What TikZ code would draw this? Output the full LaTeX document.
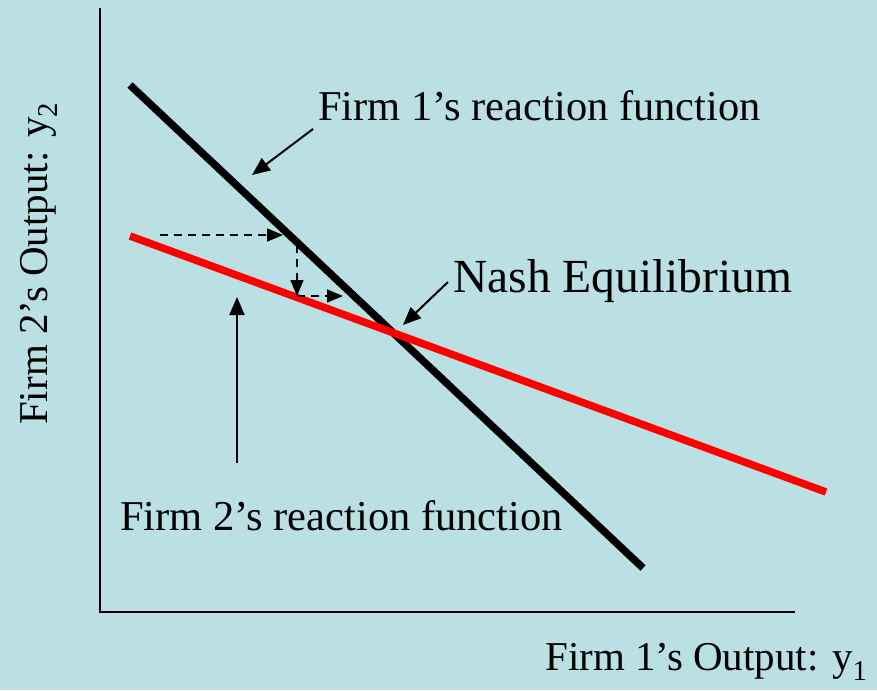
\documentclass[tikz,border=0pt]{standalone}
\usepackage{fontspec}
\setmainfont{Liberation Serif}
\usepackage{xcolor}
\definecolor{SlideBlue}{HTML}{BAE0E3}
\definecolor{CurveRed}{HTML}{FF0000}
\usepackage{tikz}
\usetikzlibrary{arrows.meta,positioning}

\begin{document}
\begin{tikzpicture}[
  x=1pt, y=-1pt,
  axis/.style={line width=1.6pt, color=black},
  curve/.style={line width=7.5pt},
  pointer/.style={-{Triangle[length=18pt, width=15pt]}, line width=2pt},
  adjust/.style={-{Triangle[length=16pt, width=13pt]}, line width=1.6pt, dash pattern=on 8pt off 6pt},
  lbl/.style={font=\fontsize{42.5}{50}\selectfont, inner sep=0pt, anchor=base west},
  axlbl/.style={font=\fontsize{41}{48}\selectfont, inner sep=0pt, anchor=base west},
]
  % Background
  \fill[SlideBlue] (0,0) rectangle (877,690);
  \useasboundingbox (0,0) rectangle (877,690);

  % Axes
  \coordinate (origin) at (100,612);
  \coordinate (ytop) at (100,8);
  \coordinate (xend) at (795,612);
  \draw[axis] (ytop) -- (origin) -- (xend);
  \node[axlbl] (xlabel) at (545,670) {Firm 1’s Output: y\textsubscript{1}};
  \node[axlbl, rotate=90] (ylabel) at (47,425) {Firm 2’s Output: y\textsubscript{2}};

  % Reaction functions
  \coordinate (f1start) at (130,85);
  \coordinate (f1end) at (643,568);
  \coordinate (f2start) at (130,236);
  \coordinate (f2end) at (826,492);
  \draw[curve, black] (f1start) -- (f1end);
  \draw[curve, CurveRed] (f2start) -- (f2end);

  % Labels
  \node[lbl] (f1lbl) at (318,121) {Firm 1’s reaction function};
  \node[lbl, font=\fontsize{47.5}{55}\selectfont] (nashlbl) at (453,292) {Nash Equilibrium};
  \node[lbl] (f2lbl) at (120,530) {Firm 2’s reaction function};

  % Pointers
  \coordinate (f1tail) at (313,129);
  \coordinate (f1tip) at (252,175);
  \coordinate (nashtail) at (448,282);
  \coordinate (nashtip) at (403,325);
  \coordinate (f2tail) at (237,463);
  \coordinate (f2tip) at (237,297);
  \draw[pointer] (f1tail) -- (f1tip);
  \draw[pointer] (nashtail) -- (nashtip);
  \draw[pointer] (f2tail) -- (f2tip);

  % Adjustment path
  \coordinate (a0) at (160,235);
  \coordinate (a1) at (283,235);
  \coordinate (a2) at (297,245);
  \coordinate (a3) at (297,296);
  \coordinate (a4) at (343,296);
  \draw[adjust] (a0) -- (a1);
  \draw[adjust] (a2) -- (a3);
  \draw[adjust] (a3) -- (a4);
\end{tikzpicture}
\end{document}
